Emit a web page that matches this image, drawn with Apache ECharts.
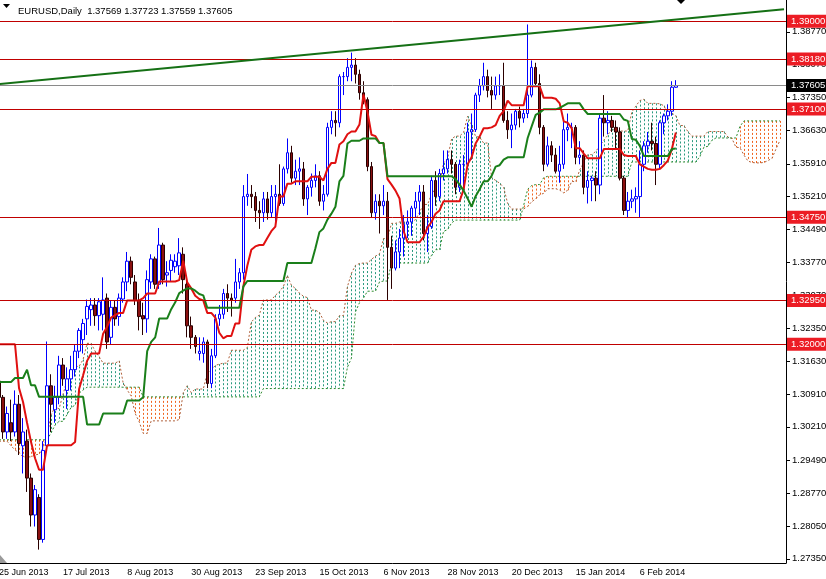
<!DOCTYPE html>
<html><head><meta charset="utf-8">
<script src="https://cdn.jsdelivr.net/npm/echarts@6/dist/echarts.min.js"></script>
<style>html,body{margin:0;padding:0;background:#fff}#c{width:826px;height:579px}</style>
</head><body><div id="c"></div><script>
// ---- calendar (trading days, incl. 26 projected cloud days) ----
const tradingDays = [
 ['Jun 2013',[25,26,27,28]],
 ['Jul 2013',[1,2,3,4,5,8,9,10,11,12,15,16,17,18,19,22,23,24,25,26,29,30,31]],
 ['Aug 2013',[1,2,5,6,7,8,9,12,13,14,15,16,19,20,21,22,23,26,27,28,29,30]],
 ['Sep 2013',[2,3,4,5,6,9,10,11,12,13,16,17,18,19,20,23,24,25,26,27,30]],
 ['Oct 2013',[1,2,3,4,7,8,9,10,11,14,15,16,17,18,21,22,23,24,25,28,29,30,31]],
 ['Nov 2013',[1,4,5,6,7,8,11,12,13,14,15,18,19,20,21,22,25,26,27,28,29]],
 ['Dec 2013',[2,3,4,5,6,9,10,11,12,13,16,17,18,19,20,23,24,26,27,30,31]],
 ['Jan 2014',[2,3,6,7,8,9,10,13,14,15,16,17,20,21,22,23,24,27,28,29,30,31]],
 ['Feb 2014',[3,4,5,6,7,10,11,12,13,14,17,18,19,20,21,24,25,26,27,28]],
 ['Mar 2014',[3,4,5,6,7,10,11,12,13,14,17,18,19,20,21,24,25,26,27,28]]
];
const xTickLabels = ['25 Jun 2013','17 Jul 2013','8 Aug 2013','30 Aug 2013','23 Sep 2013','15 Oct 2013','6 Nov 2013','28 Nov 2013','20 Dec 2013','15 Jan 2014','6 Feb 2014'];
const yTicks = [1.2735,1.2805,1.2877,1.2949,1.3021,1.3091,1.3163,1.3235,1.3307,1.3377,1.3449,1.3521,1.3591,1.3663,1.3735,1.3807,1.3877];

// ---- price data (daily OHLC) ----
const open = [1.3120,1.3085,1.3010,1.3030,1.3010,1.3070,1.2980,1.2990,1.2910,1.2830,
1.2868,1.2777,1.2980,1.3110,1.3058,1.3085,1.3155,1.3100,1.3125,1.3145,
1.3185,1.3210,1.3255,1.3275,1.3285,1.3262,1.3265,1.3300,1.3215,1.3280,
1.3260,1.3298,1.3335,1.3380,1.3335,1.3295,1.3262,1.3255,1.3335,1.3385,
1.3330,1.3415,1.3350,1.3360,1.3368,1.3370,1.3395,1.3330,1.3240,1.3215,
1.3180,1.3180,1.3205,1.3115,1.3175,1.3255,1.3265,1.3310,1.3300,1.3300,
1.3335,1.3355,1.3520,1.3525,1.3520,1.3490,1.3485,1.3515,1.3485,1.3520,
1.3525,1.3505,1.3580,1.3615,1.3560,1.3575,1.3580,1.3515,1.3540,1.3555,
1.3565,1.3510,1.3525,1.3670,1.3685,1.3680,1.3780,1.3780,1.3800,1.3805,
1.3785,1.3745,1.3730,1.3585,1.3485,1.3510,1.3500,1.3510,1.3410,1.3365,
1.3400,1.3430,1.3460,1.3465,1.3495,1.3510,1.3530,1.3440,1.3455,1.3555,
1.3520,1.3570,1.3580,1.3600,1.3590,1.3540,1.3590,1.3590,1.3660,1.3665,
1.3740,1.3760,1.3780,1.3750,1.3740,1.3760,1.3760,1.3685,1.3665,1.3675,
1.3705,1.3690,1.3700,1.3740,1.3800,1.3765,1.3670,1.3590,1.3630,1.3610,
1.3575,1.3590,1.3665,1.3670,1.3670,1.3605,1.3610,1.3540,1.3555,1.3560,
1.3545,1.3690,1.3680,1.3685,1.3670,1.3660,1.3560,1.3490,1.3510,1.3515,
1.3520,1.3590,1.3630,1.3640,1.3635,1.3590,1.3680,1.3695,1.3705,1.37569];
const high = [1.3170,1.3090,1.3065,1.3080,1.3100,1.3090,1.3040,1.3015,1.2920,1.2895,
1.2875,1.2990,1.3206,1.3135,1.3110,1.3175,1.3170,1.3150,1.3175,1.3200,
1.3235,1.3255,1.3297,1.3300,1.3300,1.3300,1.3345,1.3310,1.3295,1.3295,
1.3310,1.3345,1.3400,1.3390,1.3350,1.3310,1.3290,1.3360,1.3395,1.3390,
1.3452,1.3420,1.3380,1.3395,1.3395,1.3430,1.3410,1.3345,1.3260,1.3220,
1.3215,1.3215,1.3210,1.3190,1.3265,1.3285,1.3320,1.3330,1.3310,1.3385,
1.3365,1.3545,1.3569,1.3545,1.3530,1.3510,1.3530,1.3530,1.3545,1.3545,
1.3590,1.3585,1.3646,1.3630,1.3600,1.3605,1.3595,1.3545,1.3570,1.3590,
1.3575,1.3545,1.3680,1.3705,1.3705,1.3785,1.3790,1.3820,1.3832,1.3820,
1.3795,1.3770,1.3735,1.3595,1.3525,1.3525,1.3545,1.3530,1.3435,1.3425,
1.3450,1.3480,1.3490,1.3500,1.3530,1.3545,1.3545,1.3480,1.3565,1.3575,
1.3580,1.3620,1.3620,1.3620,1.3595,1.3600,1.3610,1.3680,1.3700,1.3745,
1.3775,1.3810,1.3795,1.3780,1.3780,1.3785,1.3810,1.3705,1.3700,1.3710,
1.3715,1.3710,1.3893,1.3815,1.3810,1.3785,1.3675,1.3650,1.3640,1.3625,
1.3630,1.3685,1.3700,1.3680,1.3675,1.3640,1.3620,1.3575,1.3565,1.3575,
1.3700,1.3740,1.3705,1.3695,1.3685,1.3670,1.3565,1.3530,1.3535,1.3540,
1.3620,1.3640,1.3660,1.3680,1.3650,1.3685,1.3700,1.3720,1.3770,1.37723];
const low = [1.3080,1.2995,1.2995,1.2990,1.3000,1.2960,1.2920,1.2880,1.2805,1.2805,
1.2755,1.2770,1.2970,1.3010,1.3030,1.3070,1.3110,1.3060,1.3100,1.3130,
1.3170,1.3180,1.3220,1.3240,1.3240,1.3230,1.3230,1.3190,1.3200,1.3240,
1.3240,1.3290,1.3315,1.3330,1.3285,1.3230,1.3220,1.3225,1.3320,1.3320,
1.3320,1.3330,1.3325,1.3335,1.3355,1.3350,1.3310,1.3215,1.3190,1.3180,
1.3165,1.3160,1.3105,1.3105,1.3170,1.3240,1.3255,1.3270,1.3260,1.3290,
1.3320,1.3340,1.3500,1.3495,1.3465,1.3450,1.3465,1.3470,1.3475,1.3460,
1.3500,1.3500,1.3570,1.3550,1.3545,1.3545,1.3500,1.3480,1.3520,1.3540,
1.3500,1.3490,1.3520,1.3655,1.3650,1.3670,1.3740,1.3770,1.3770,1.3765,
1.3730,1.3720,1.3575,1.3475,1.3470,1.3440,1.3480,1.3296,1.3320,1.3360,
1.3365,1.3390,1.3430,1.3435,1.3475,1.3480,1.3425,1.3400,1.3450,1.3500,
1.3510,1.3555,1.3570,1.3570,1.3525,1.3530,1.3540,1.3580,1.3600,1.3660,
1.3725,1.3750,1.3735,1.3710,1.3730,1.3740,1.3680,1.3645,1.3625,1.3665,
1.3670,1.3680,1.3690,1.3735,1.3760,1.3655,1.3575,1.3585,1.3595,1.3570,
1.3550,1.3580,1.3640,1.3625,1.3590,1.3590,1.3525,1.3505,1.3510,1.3510,
1.3525,1.3650,1.3655,1.3660,1.3625,1.3555,1.3480,1.3475,1.3495,1.3485,
1.3475,1.3575,1.3615,1.3620,1.3545,1.3580,1.3655,1.3685,1.3695,1.37559];
const close = [1.3085,1.3010,1.3050,1.3010,1.3070,1.2985,1.3010,1.2910,1.2830,1.2885,
1.2777,1.2970,1.3110,1.3070,1.3085,1.3155,1.3125,1.3125,1.3145,1.3185,
1.3230,1.3245,1.3282,1.3285,1.3262,1.3292,1.3296,1.3205,1.3280,1.3255,
1.3300,1.3335,1.3380,1.3345,1.3295,1.3260,1.3255,1.3340,1.3385,1.3330,
1.3415,1.3340,1.3355,1.3382,1.3380,1.3398,1.3340,1.3240,1.3215,1.3195,
1.3185,1.3205,1.3115,1.3175,1.3255,1.3265,1.3310,1.3300,1.3295,1.3335,
1.3355,1.3520,1.3525,1.3520,1.3490,1.3485,1.3515,1.3485,1.3520,1.3525,
1.3505,1.3580,1.3615,1.3560,1.3575,1.3580,1.3515,1.3540,1.3555,1.3565,
1.3510,1.3525,1.3670,1.3685,1.3680,1.3780,1.3780,1.3800,1.3805,1.3785,
1.3745,1.3730,1.3585,1.3485,1.3510,1.3500,1.3510,1.3410,1.3365,1.3400,
1.3430,1.3460,1.3465,1.3495,1.3510,1.3530,1.3440,1.3455,1.3555,1.3520,
1.3570,1.3580,1.3600,1.3590,1.3540,1.3590,1.3590,1.3660,1.3665,1.3740,
1.3760,1.3780,1.3750,1.3740,1.3760,1.3760,1.3685,1.3665,1.3675,1.3705,
1.3690,1.3700,1.3740,1.3800,1.3765,1.3670,1.3590,1.3630,1.3610,1.3575,
1.3590,1.3665,1.3670,1.3670,1.3605,1.3610,1.3540,1.3555,1.3560,1.3545,
1.3690,1.3680,1.3685,1.3670,1.3660,1.3560,1.3490,1.3510,1.3515,1.3520,
1.3590,1.3630,1.3640,1.3635,1.3590,1.3680,1.3695,1.3705,1.3757,1.37605];

// ---- Ichimoku lines ----
const tenkan = [1.3200,1.3200,1.3200,1.3200,1.3200,1.3105,1.3075,1.3030,1.2988,1.2953,
1.2928,1.2928,1.2981,1.2981,1.2981,1.2981,1.2981,1.2981,1.2981,1.2988,
1.3103,1.3133,1.3164,1.3180,1.3180,1.3180,1.3223,1.3238,1.3258,1.3263,
1.3268,1.3268,1.3295,1.3295,1.3295,1.3295,1.3300,1.3310,1.3310,1.3310,
1.3336,1.3336,1.3336,1.3336,1.3336,1.3339,1.3381,1.3334,1.3321,1.3305,
1.3298,1.3295,1.3268,1.3268,1.3258,1.3225,1.3213,1.3218,1.3218,1.3245,
1.3245,1.3325,1.3370,1.3405,1.3412,1.3415,1.3415,1.3430,1.3445,1.3455,
1.3520,1.3520,1.3548,1.3548,1.3553,1.3553,1.3553,1.3553,1.3563,1.3563,
1.3563,1.3555,1.3580,1.3593,1.3593,1.3633,1.3640,1.3655,1.3661,1.3661,
1.3676,1.3741,1.3704,1.3654,1.3651,1.3636,1.3636,1.3558,1.3546,1.3533,
1.3516,1.3446,1.3421,1.3421,1.3421,1.3421,1.3433,1.3453,1.3465,1.3483,
1.3490,1.3510,1.3510,1.3510,1.3510,1.3510,1.3535,1.3590,1.3605,1.3635,
1.3650,1.3668,1.3668,1.3670,1.3675,1.3695,1.3705,1.3728,1.3718,1.3718,
1.3718,1.3718,1.3759,1.3759,1.3759,1.3759,1.3734,1.3734,1.3734,1.3732,
1.3722,1.3683,1.3680,1.3668,1.3625,1.3625,1.3613,1.3603,1.3603,1.3603,
1.3603,1.3623,1.3623,1.3623,1.3623,1.3623,1.3610,1.3608,1.3608,1.3608,
1.3590,1.3585,1.3580,1.3578,1.3578,1.3580,1.3588,1.3598,1.3623,1.3659];
const kijun = [1.3118,1.3118,1.3118,1.3118,1.3127,1.3127,1.3127,1.3145,1.3111,1.3111,
1.3086,1.3086,1.3086,1.3086,1.3086,1.3086,1.3086,1.3086,1.3086,1.3086,
1.3086,1.3086,1.3026,1.3026,1.3026,1.3026,1.3050,1.3050,1.3050,1.3050,
1.3050,1.3050,1.3078,1.3078,1.3078,1.3078,1.3085,1.3185,1.3205,1.3215,
1.3256,1.3256,1.3256,1.3276,1.3291,1.3311,1.3316,1.3321,1.3321,1.3316,
1.3309,1.3306,1.3279,1.3279,1.3279,1.3279,1.3279,1.3279,1.3279,1.3279,
1.3279,1.3325,1.3337,1.3337,1.3337,1.3337,1.3337,1.3337,1.3337,1.3337,
1.3337,1.3337,1.3376,1.3376,1.3376,1.3376,1.3376,1.3376,1.3376,1.3408,
1.3443,1.3451,1.3470,1.3483,1.3498,1.3553,1.3565,1.3635,1.3641,1.3641,
1.3641,1.3646,1.3646,1.3646,1.3646,1.3636,1.3636,1.3564,1.3564,1.3564,
1.3564,1.3564,1.3564,1.3564,1.3564,1.3564,1.3564,1.3564,1.3564,1.3564,
1.3564,1.3564,1.3564,1.3564,1.3558,1.3546,1.3533,1.3516,1.3498,1.3521,
1.3536,1.3553,1.3553,1.3565,1.3585,1.3588,1.3600,1.3605,1.3605,1.3605,
1.3605,1.3605,1.3647,1.3672,1.3697,1.3702,1.3709,1.3709,1.3709,1.3709,
1.3712,1.3717,1.3722,1.3722,1.3722,1.3722,1.3709,1.3699,1.3699,1.3699,
1.3699,1.3699,1.3699,1.3699,1.3699,1.3699,1.3687,1.3684,1.3645,1.3643,
1.3630,1.3608,1.3608,1.3608,1.3608,1.3608,1.3608,1.3608,1.3623,1.3624];
const spanA = [1.2990,1.2990,1.2990,1.2980,1.2971,1.2965,1.2956,1.2956,1.2956,1.2960,
1.2962,1.2975,1.3000,1.3047,1.3064,1.3060,1.3092,1.3122,1.3137,1.3152,
1.3152,1.3167,1.3202,1.3202,1.3185,1.3173,1.3159,1.3159,1.3159,1.3159,
1.3164,1.3116,1.3101,1.3088,1.3050,1.3032,1.3007,1.3007,1.3034,1.3034,
1.3034,1.3034,1.3034,1.3034,1.3034,1.3037,1.3095,1.3110,1.3095,1.3103,
1.3103,1.3103,1.3137,1.3144,1.3154,1.3157,1.3159,1.3159,1.3187,1.3187,
1.3187,1.3187,1.3193,1.3248,1.3258,1.3263,1.3296,1.3296,1.3296,1.3306,
1.3314,1.3325,1.3349,1.3328,1.3321,1.3311,1.3304,1.3301,1.3274,1.3274,
1.3269,1.3252,1.3246,1.3249,1.3249,1.3262,1.3262,1.3325,1.3354,1.3371,
1.3375,1.3376,1.3376,1.3384,1.3391,1.3396,1.3429,1.3429,1.3462,1.3462,
1.3465,1.3465,1.3465,1.3465,1.3470,1.3486,1.3503,1.3503,1.3525,1.3538,
1.3546,1.3593,1.3603,1.3645,1.3651,1.3651,1.3659,1.3694,1.3675,1.3650,
1.3649,1.3636,1.3636,1.3561,1.3555,1.3549,1.3540,1.3505,1.3493,1.3493,
1.3493,1.3493,1.3499,1.3509,1.3515,1.3524,1.3527,1.3537,1.3537,1.3537,
1.3534,1.3528,1.3534,1.3553,1.3552,1.3578,1.3593,1.3611,1.3611,1.3618,
1.3630,1.3642,1.3653,1.3667,1.3662,1.3662,1.3662,1.3662,1.3703,1.3716,
1.3728,1.3731,1.3722,1.3722,1.3722,1.3721,1.3717,1.3700,1.3701,1.3695,
1.3674,1.3674,1.3661,1.3651,1.3651,1.3651,1.3651,1.3661,1.3661,1.3661,
1.3661,1.3661,1.3649,1.3646,1.3627,1.3626,1.3610,1.3597,1.3594,1.3593,
1.3593,1.3594,1.3598,1.3603,1.3623,1.3642];
const spanB = [1.2993,1.2993,1.2993,1.2993,1.2993,1.2993,1.2993,1.2993,1.2993,1.2993,
1.2993,1.2993,1.2993,1.3008,1.3025,1.3033,1.3033,1.3048,1.3063,1.3068,
1.3094,1.3101,1.3107,1.3107,1.3107,1.3107,1.3107,1.3107,1.3107,1.3107,
1.3107,1.3107,1.3107,1.3107,1.3107,1.3107,1.3086,1.3086,1.3086,1.3086,
1.3086,1.3086,1.3086,1.3086,1.3086,1.3086,1.3086,1.3086,1.3086,1.3086,
1.3086,1.3086,1.3086,1.3086,1.3086,1.3086,1.3086,1.3086,1.3086,1.3086,
1.3086,1.3086,1.3086,1.3086,1.3086,1.3086,1.3104,1.3104,1.3104,1.3104,
1.3104,1.3104,1.3104,1.3104,1.3104,1.3104,1.3104,1.3104,1.3104,1.3104,
1.3104,1.3104,1.3104,1.3104,1.3104,1.3104,1.3104,1.3150,1.3170,1.3270,
1.3290,1.3300,1.3315,1.3315,1.3315,1.3335,1.3337,1.3337,1.3376,1.3376,
1.3376,1.3376,1.3376,1.3376,1.3376,1.3376,1.3376,1.3376,1.3393,1.3405,
1.3405,1.3445,1.3448,1.3463,1.3469,1.3469,1.3469,1.3469,1.3469,1.3469,
1.3469,1.3469,1.3469,1.3469,1.3469,1.3469,1.3469,1.3469,1.3469,1.3469,
1.3469,1.3501,1.3536,1.3544,1.3546,1.3546,1.3561,1.3564,1.3564,1.3564,
1.3564,1.3564,1.3564,1.3564,1.3564,1.3564,1.3564,1.3564,1.3564,1.3564,
1.3564,1.3564,1.3564,1.3564,1.3564,1.3564,1.3564,1.3564,1.3595,1.3595,
1.3595,1.3595,1.3595,1.3595,1.3595,1.3595,1.3595,1.3595,1.3595,1.3595,
1.3595,1.3595,1.3595,1.3595,1.3595,1.3607,1.3627,1.3629,1.3642,1.3647,
1.3647,1.3647,1.3647,1.3647,1.3647,1.3672,1.3684,1.3684,1.3684,1.3684,
1.3684,1.3684,1.3684,1.3684,1.3684,1.3684];

// ---- drawn levels ----
const levels = [1.39000,1.38180,1.37100,1.34750,1.32950,1.32000];
const lastPrice = 1.37605;
const trendStart = [0, 1.3764];
const trendEnd = [196, 1.3926];

const dates = [];
tradingDays.forEach(([m, ds]) => ds.forEach(d => dates.push(d + ' ' + m)));
const candleData = open.map((o, i) => [o, close[i], low[i], high[i]]);
const cloudData = spanA.map((a, i) => [i, a, spanB[i]]);
const FONT = 'Tahoma, "Liberation Sans", Arial, sans-serif';
const isTick = (i, v) => xTickLabels.indexOf(v) >= 0;
const KUMO_UP = '#2a9a7e', KUMO_DN = '#f0641e';

const chart = echarts.init(document.getElementById('c'), null, {renderer: 'canvas'});
const levelLabel = (bg, v) => ({show: true, position: 'end', distance: 1, color: '#fff', backgroundColor: bg,
  padding: [2, 4, 1, 4], fontSize: 9.5, fontFamily: FONT, formatter: v.toFixed(5)});

// one dotted vertical hatch per bar between Senkou A and Senkou B
function kumoItem(params, api) {
  const i = params.dataIndex;
  const a = spanA[i], b = spanB[i];
  const pa = api.coord([i, a]), pb = api.coord([i, b]);
  const x = Math.round(pa[0]) + 0.5;
  return {type: 'line', shape: {x1: x, y1: Math.min(pa[1], pb[1]), x2: x, y2: Math.max(pa[1], pb[1])},
    style: {stroke: a >= b ? KUMO_UP : KUMO_DN, lineWidth: 1, lineDash: [2, 2]}};
}

chart.setOption({
  animation: false,
  backgroundColor: '#ffffff',
  title: {
    text: 'EURUSD,Daily  ' + [open[169], high[169], low[169], close[169]].map(v => v.toFixed(5)).join(' '),
    left: 13, top: 1,
    textStyle: {fontSize: 9.5, fontWeight: 'normal', color: '#000', fontFamily: FONT}
  },
  graphic: [
    {type: 'polygon', shape: {points: [[3, 4], [10, 4], [6.5, 8]]}, style: {fill: '#000'}},
    {type: 'polygon', shape: {points: [[677, 0], [685, 0], [681, 4]]}, style: {fill: '#000'}},
    {type: 'polygon', shape: {points: [[0, 555], [7, 563], [0, 563]]}, style: {fill: '#9a9a9a'}}
  ],
  grid: {left: -3, right: 40, top: 0, bottom: 16, containLabel: false, outerBoundsMode: 'none'},
  xAxis: {
    type: 'category', data: dates, boundaryGap: true,
    axisLine: {lineStyle: {color: '#000', width: 1}},
    axisTick: {alignWithLabel: true, interval: isTick, length: 4, lineStyle: {color: '#000'}},
    axisLabel: {interval: isTick, align: 'left', margin: 5, color: '#000', fontSize: 9, fontFamily: FONT},
    splitLine: {show: false}
  },
  yAxis: {
    type: 'value', position: 'right', min: 1.2726, max: 1.3946,
    axisLine: {show: true, lineStyle: {color: '#000'}},
    axisTick: {show: true, length: 4, customValues: yTicks, lineStyle: {color: '#000'}},
    axisLabel: {customValues: yTicks, formatter: v => v.toFixed(5), color: '#000', fontSize: 9.5, fontFamily: FONT, margin: 6},
    splitLine: {show: false}
  },
  series: [
    {type: 'custom', name: 'kumo', data: cloudData, encode: {x: 0, y: [1, 2]}, z: 1, silent: true, renderItem: kumoItem},
    {type: 'line', name: 'SpanA', data: spanA, symbol: 'none', z: 2, silent: true,
      lineStyle: {color: '#b0603a', width: 1, type: [2, 2]}},
    {type: 'line', name: 'SpanB', data: spanB, symbol: 'none', z: 2, silent: true,
      lineStyle: {color: '#2e8b2e', width: 1, type: [2, 2]}},
    {
      type: 'candlestick', name: 'EURUSD', data: candleData, barWidth: 3, z: 3, silent: true,
      itemStyle: {color: '#ffffff', color0: '#8b1010', borderColor: '#0000ff', borderColor0: '#2a0000', borderWidth: 1},
      markLine: {
        silent: true, symbol: ['none', 'none'], animation: false, precision: 5,
        data: levels.map(v => ({yAxis: v, lineStyle: {color: '#c00000', width: 1, type: 'solid'}, label: levelLabel('#ec1c24', v)}))
          .concat([{yAxis: lastPrice, lineStyle: {color: '#8a8a8a', width: 1, type: 'solid'}, label: levelLabel('#000000', lastPrice)}])
      }
    },
    {type: 'line', name: 'Tenkan', data: tenkan, symbol: 'none', z: 4, silent: true,
      lineStyle: {color: '#e01010', width: 2}},
    {type: 'line', name: 'Kijun', data: kijun, symbol: 'none', z: 4, silent: true,
      lineStyle: {color: '#1a7f1a', width: 2},
      markLine: {
        silent: true, symbol: ['none', 'none'], animation: false, label: {show: false}, precision: 5,
        lineStyle: {color: '#157015', width: 2, type: 'solid'},
        data: [[{coord: trendStart}, {coord: trendEnd}]]
      }}
  ]
});
</script></body></html>
